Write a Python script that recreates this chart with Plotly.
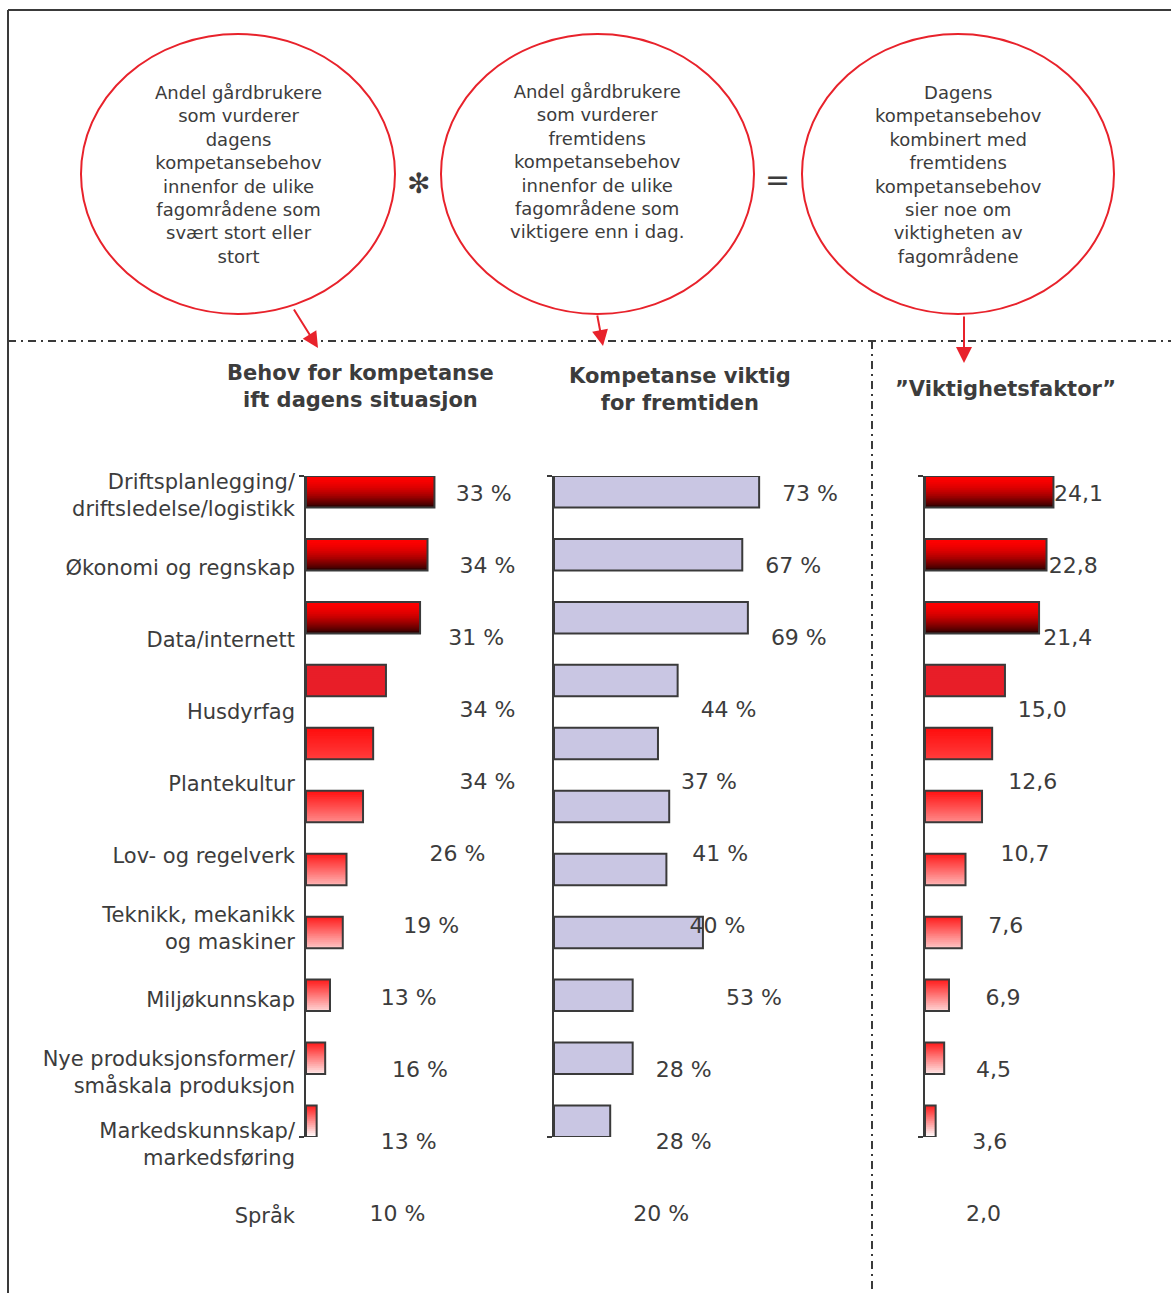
import plotly.graph_objects as go

# ---------------- data ----------------
categories = [
    "Driftsplanlegging/<br>driftsledelse/logistikk",
    "Økonomi og regnskap",
    "Data/internett",
    "Husdyrfag",
    "Plantekultur",
    "Lov- og regelverk",
    "Teknikk, mekanikk<br>og maskiner",
    "Miljøkunnskap",
    "Nye produksjonsformer/<br>småskala produksjon",
    "Markedskunnskap/<br>markedsføring",
    "Språk",
]
today_pct = [33, 34, 31, 34, 34, 26, 19, 13, 16, 13, 10]
future_pct = [73, 67, 69, 44, 37, 41, 40, 53, 28, 28, 20]
factor = [24.1, 22.8, 21.4, 15.0, 12.6, 10.7, 7.6, 6.9, 4.5, 3.6, 2.0]

panel_titles = [
    "Behov for kompetanse<br>ift dagens situasjon",
    "Kompetanse viktig<br>for fremtiden",
    "”Viktighetsfaktor”",
]
circle_texts = [
    "Andel gårdbrukere<br>som vurderer<br>dagens<br>kompetansebehov<br>innenfor de ulike<br>fagområdene som<br>svært stort eller<br>stort",
    "Andel gårdbrukere<br>som vurderer<br>fremtidens<br>kompetansebehov<br>innenfor de ulike<br>fagområdene som<br>viktigere enn i dag.",
    "Dagens<br>kompetansebehov<br>kombinert med<br>fremtidens<br>kompetansebehov<br>sier noe om<br>viktigheten av<br>fagområdene",
]

# ---------------- styles ----------------
W, H = 1171, 1293
FONT = "DejaVu Sans"
TXT = "#3c3c3c"
EDGE = "#3a3a3a"
RED = "#E8222B"
LAVENDER = "#C9C6E3"
grad_top = ["#FF0000", "#FF0000", "#FF0000", "#E81E28", "#FF0C0C", "#FF1010",
            "#FF1818", "#FF1A1A", "#FF1A1A", "#FF1A1A", "#FF1A1A"]
grad_bot = ["#2A0000", "#2A0000", "#2A0000", "#E81E28", "#FF3C3C", "#FF8A8A",
            "#FFB4B4", "#FFC6C6", "#FFD6D6", "#FFE8E8", "#FFFFFF"]
grad_gamma = [1.8, 1.8, 1.8, 1, 1, 1, 1, 1, 1, 1, 1]


def fx(p):
    return p / W


def fy(p):
    return 1 - p / H


def mix(c1, c2, t):
    a = [int(c1[i:i + 2], 16) for i in (1, 3, 5)]
    b = [int(c2[i:i + 2], 16) for i in (1, 3, 5)]
    return "rgb(%d,%d,%d)" % tuple(round(a[j] + (b[j] - a[j]) * t) for j in range(3))


idx = list(range(len(categories)))
fig = go.Figure()

# gradient bars (panels 1 and 3 show the importance factor)
N = 16
for xa, ya in (("x", "y"), ("x3", "y3")):
    for k in range(N):
        off = -0.25 + k * 0.5 / N
        t = (k + 0.5) / N
        fig.add_trace(go.Bar(
            x=factor, y=idx, orientation="h", width=0.5 - k * 0.5 / N, offset=off,
            marker=dict(color=[mix(c1, c2, t ** g) for c1, c2, g in zip(grad_top, grad_bot, grad_gamma)],
                        line=dict(width=0)),
            xaxis=xa, yaxis=ya, hoverinfo="skip", showlegend=False))
    fig.add_trace(go.Bar(
        x=factor, y=idx, orientation="h", width=0.5, offset=-0.25,
        marker=dict(color="rgba(0,0,0,0)", line=dict(color=EDGE, width=2)),
        xaxis=xa, yaxis=ya, hoverinfo="skip", showlegend=False))

# panel 2 bars
fig.add_trace(go.Bar(
    x=future_pct, y=idx, orientation="h", width=0.5, offset=-0.25,
    marker=dict(color=LAVENDER, line=dict(color=EDGE, width=2)),
    xaxis="x2", yaxis="y2", hoverinfo="skip", showlegend=False))

# value labels
tf = dict(family=FONT, size=22, color=TXT)
fig.add_trace(go.Scatter(x=today_pct, y=categories, mode="text",
                         text=[f"{v} %" for v in today_pct], textposition="middle right",
                         textfont=tf, cliponaxis=False, xaxis="x4", yaxis="y4",
                         showlegend=False, hoverinfo="skip"))
fig.add_trace(go.Scatter(x=future_pct, y=categories, mode="text",
                         text=[f"{v} %" for v in future_pct], textposition="middle right",
                         textfont=tf, cliponaxis=False, xaxis="x5", yaxis="y4",
                         showlegend=False, hoverinfo="skip"))
fig.add_trace(go.Scatter(x=factor, y=categories, mode="text",
                         text=[f"{v:.1f}".replace(".", ",") for v in factor],
                         textposition="middle right",
                         textfont=tf, cliponaxis=False, xaxis="x6", yaxis="y4",
                         showlegend=False, hoverinfo="skip"))

bar_y = dict(domain=[fy(1137), fy(476)], range=[10.25, -0.25], showline=True,
             linecolor=EDGE, linewidth=2, ticks="outside", tickmode="array",
             tickvals=[-0.25, 10.25], ticklen=5, tickwidth=2, tickcolor=EDGE,
             showticklabels=False, showgrid=False, zeroline=False)
hid_x = dict(visible=False, showgrid=False, zeroline=False, fixedrange=True)

fig.update_layout(
    width=W, height=H, autosize=False,
    margin=dict(l=0, r=0, t=0, b=0),
    paper_bgcolor="white", plot_bgcolor="rgba(0,0,0,0)",
    barmode="overlay", showlegend=False,
    font=dict(family=FONT, color=TXT),
    xaxis=dict(hid_x, domain=[fx(306), fx(506)], range=[0, 200 / 5.33], anchor="y"),
    xaxis2=dict(hid_x, domain=[fx(554), fx(854)], range=[0, 300 / 2.81], anchor="y2"),
    xaxis3=dict(hid_x, domain=[fx(925), fx(1125)], range=[0, 200 / 5.33], anchor="y3"),
    xaxis4=dict(hid_x, domain=[fx(332), fx(532)], range=[0, 200 / 3.75], anchor="y4"),
    xaxis5=dict(hid_x, domain=[fx(577), fx(877)], range=[0, 300 / 2.81], anchor="y4"),
    xaxis6=dict(hid_x, domain=[fx(958), fx(1158)], range=[0, 200 / 3.98], anchor="y4"),
    yaxis=dict(bar_y, anchor="x"),
    yaxis2=dict(bar_y, anchor="x2"),
    yaxis3=dict(bar_y, anchor="x3"),
    yaxis4=dict(type="category", categoryorder="array", categoryarray=categories,
                domain=[fy(1242), fy(462)], range=[10.361, -0.465],
                anchor="free", position=fx(295), showline=False, ticks="",
                showgrid=False, zeroline=False,
                tickfont=dict(family=FONT, size=21, color=TXT)),
)

# frame, separators and circles
shapes = [
    dict(type="line", xref="paper", yref="paper", x0=fx(8), x1=1, y0=fy(10), y1=fy(10),
         line=dict(color=EDGE, width=2)),
    dict(type="line", xref="paper", yref="paper", x0=fx(8), x1=fx(8), y0=fy(10), y1=0,
         line=dict(color=EDGE, width=2)),
    dict(type="line", xref="paper", yref="paper", x0=fx(8), x1=1, y0=fy(341), y1=fy(341),
         line=dict(color=EDGE, width=2, dash="8px,5px,2px,5px")),
    dict(type="line", xref="paper", yref="paper", x0=fx(872), x1=fx(872), y0=fy(341), y1=0,
         line=dict(color=EDGE, width=2, dash="8px,5px,2px,5px")),
]
circle_box = [(81, 395), (441, 754), (802, 1114)]
for (a, b) in circle_box:
    shapes.append(dict(type="circle", xref="paper", yref="paper",
                       x0=fx(a), x1=fx(b), y0=fy(314), y1=fy(34),
                       line=dict(color=RED, width=2), fillcolor="rgba(0,0,0,0)"))
fig.update_layout(shapes=shapes)

ann = []
circle_centers = [(238, 174), (597, 162), (958, 174)]
for (cx, cy), t in zip(circle_centers, circle_texts):
    ann.append(dict(x=fx(cx), y=fy(cy), xref="paper", yref="paper", text=t,
                    showarrow=False, xanchor="center", yanchor="middle", align="center",
                    font=dict(family=FONT, size=18, color=TXT)))
ann.append(dict(x=fx(418), y=fy(165), xref="paper", yref="paper", text="✻",
                showarrow=False, font=dict(family=FONT, size=28, color=TXT)))
ann.append(dict(x=fx(777), y=fy(160), xref="paper", yref="paper", text="=",
                showarrow=False, font=dict(family=FONT, size=30, color=TXT)))
title_pos = [(360, 386), (680, 389), (1005, 389)]
for (cx, cy), t in zip(title_pos, panel_titles):
    ann.append(dict(x=fx(cx), y=fy(cy), xref="paper", yref="paper", text=f"<b>{t}</b>",
                    showarrow=False, xanchor="center", yanchor="middle", align="center",
                    font=dict(family=FONT, size=21, color=TXT)))
arrows = [((293, 308), (318, 348)), ((597, 314), (603, 346)), ((964, 315), (964, 363))]
for (tx, ty), (hx, hy) in arrows:
    ann.append(dict(x=fx(hx), y=fy(hy), xref="paper", yref="paper", text="",
                    showarrow=True, ax=tx - hx, ay=ty - hy, axref="pixel", ayref="pixel",
                    arrowhead=2, arrowsize=1.6, arrowwidth=2, arrowcolor=RED))
fig.update_layout(annotations=ann)

fig.write_html("out.html", config={"displayModeBar": False},
               post_script="document.body.style.margin='0';")
